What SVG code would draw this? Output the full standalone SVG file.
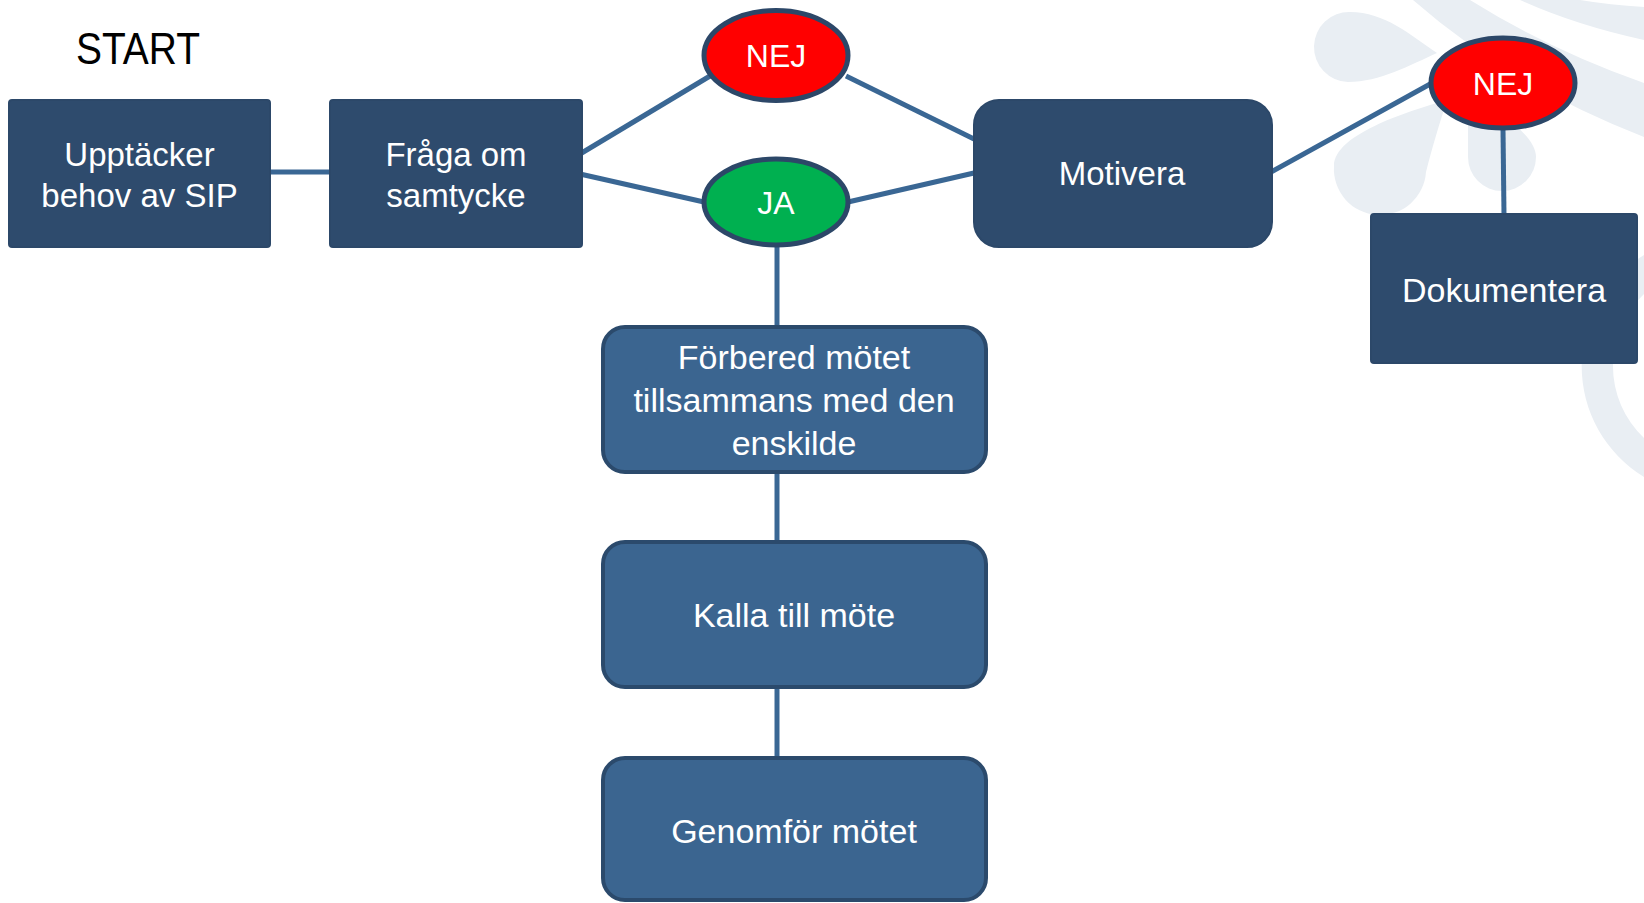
<svg xmlns="http://www.w3.org/2000/svg" width="1644" height="903" viewBox="0 0 1644 903">
<style>
  .wm { fill: #E9EEF3; }
  .dark { fill: #2E4B6D; stroke: #2C4869; stroke-width: 2; }
  .light { fill: #3B6590; stroke: #2B4A6C; stroke-width: 4; }
  .oval { stroke: #2C4768; stroke-width: 5; }
  .conn { stroke: #3A6794; stroke-width: 5; fill: none; }
  .t { font-family: "Liberation Sans", Arial, sans-serif; fill: #FFFFFF; text-anchor: middle; }
</style>
<rect x="0" y="0" width="1644" height="903" fill="#FFFFFF"/>
<g id="watermark">
  <path class="wm" d="M 1437 53 C 1410 35, 1385 12, 1350 12 A 35 35 0 0 0 1348 82 C 1380 82, 1410 65, 1437 53 Z"/>
  <path class="wm" d="M 1447 100 C 1405 112, 1334 135, 1334 166 A 46 46 0 0 0 1426 172 C 1432 148, 1440 122, 1447 100 Z"/>
  <path class="wm" d="M 1468 100 L 1468 157 A 34 34 0 0 0 1536 157 C 1536 138, 1505 112, 1468 100 Z"/>
  <path class="wm" d="M 1413 0 L 1470 0 Q 1550 50, 1644 83 L 1644 137 Q 1510 85, 1413 0 Z"/>
  <path class="wm" d="M 1520 0 L 1580 0 Q 1610 5, 1644 7 L 1644 40 Q 1575 25, 1520 0 Z"/>
  <path class="wm" d="M 1644 255 A 130 130 0 0 0 1644 477 L 1644 438 A 99 99 0 0 1 1644 294 Z"/>
</g>
<text x="138" y="64" font-family="Liberation Sans, Arial, sans-serif" font-size="44" fill="#000000" text-anchor="middle" textLength="124" lengthAdjust="spacingAndGlyphs">START</text>
<g id="connectors">
  <line class="conn" x1="270" y1="172" x2="330" y2="172"/>
  <line class="conn" x1="580" y1="154" x2="710" y2="76"/>
  <line class="conn" x1="580" y1="174" x2="704" y2="202"/>
  <line class="conn" x1="846" y1="76" x2="974" y2="139"/>
  <line class="conn" x1="848" y1="202" x2="974" y2="173"/>
  <line class="conn" x1="777" y1="246" x2="777" y2="327"/>
  <line class="conn" x1="1271" y1="172" x2="1432" y2="83"/>
  <line class="conn" x1="1503" y1="129" x2="1504" y2="215"/>
  <line class="conn" x1="777" y1="473" x2="777" y2="541"/>
  <line class="conn" x1="777" y1="688" x2="777" y2="758"/>
</g>
<g id="upptacker">
  <rect class="dark" x="9" y="100" width="261" height="147" rx="3"/>
  <text class="t" x="139.5" y="166" font-size="33">Upptäcker</text>
  <text class="t" x="139.5" y="207" font-size="33">behov av SIP</text>
</g>
<g id="fraga">
  <rect class="dark" x="330" y="100" width="252" height="147" rx="3"/>
  <text class="t" x="456" y="166" font-size="33">Fråga om</text>
  <text class="t" x="456" y="207" font-size="33">samtycke</text>
</g>
<g id="nej1">
  <ellipse class="oval" cx="776" cy="55.5" rx="72" ry="45" fill="#FF0000"/>
  <text class="t" x="776" y="67" font-size="32">NEJ</text>
</g>
<g id="ja">
  <ellipse class="oval" cx="776" cy="202" rx="72" ry="43" fill="#00B050"/>
  <text class="t" x="776" y="214" font-size="32">JA</text>
</g>
<g id="motivera">
  <rect class="dark" x="974" y="100" width="298" height="147" rx="25"/>
  <text class="t" x="1122" y="185" font-size="33">Motivera</text>
</g>
<g id="nej2">
  <ellipse class="oval" cx="1503" cy="83" rx="72" ry="45" fill="#FF0000"/>
  <text class="t" x="1503" y="95" font-size="32">NEJ</text>
</g>
<g id="dokumentera">
  <rect class="dark" x="1371" y="214" width="266" height="149" rx="3"/>
  <text class="t" x="1504" y="302" font-size="34">Dokumentera</text>
</g>
<g id="forbered">
  <rect class="light" x="603" y="327" width="383" height="145" rx="22"/>
  <text class="t" x="794" y="369" font-size="34">Förbered mötet</text>
  <text class="t" x="794" y="412" font-size="34">tillsammans med den</text>
  <text class="t" x="794" y="455" font-size="34">enskilde</text>
</g>
<g id="kalla">
  <rect class="light" x="603" y="542" width="383" height="145" rx="22"/>
  <text class="t" x="794" y="627" font-size="34">Kalla till möte</text>
</g>
<g id="genomfor">
  <rect class="light" x="603" y="758" width="383" height="142" rx="22"/>
  <text class="t" x="794" y="843" font-size="34">Genomför mötet</text>
</g>
</svg>
